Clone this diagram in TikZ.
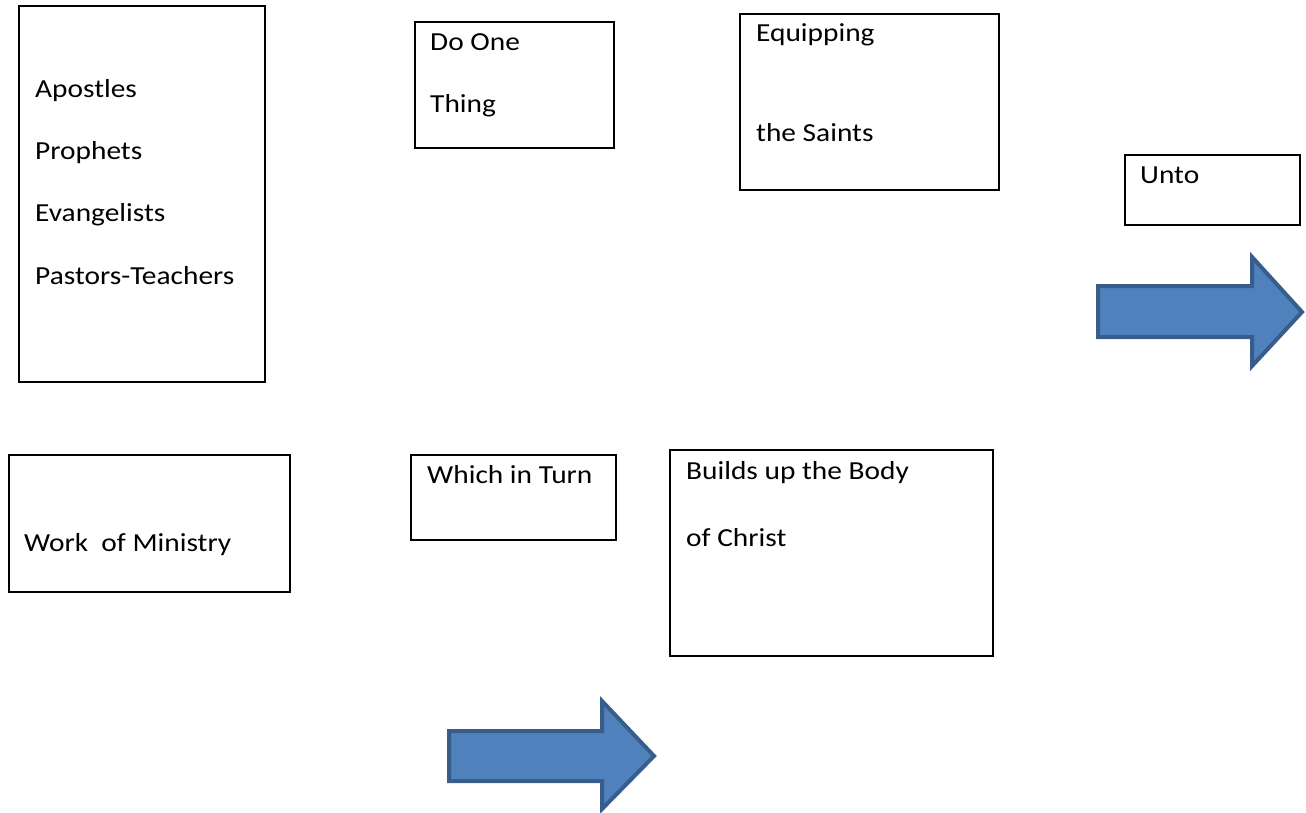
\documentclass[tikz,border=0pt]{standalone}
\usepackage{fontspec}
\setmainfont[FakeStretch=1.13]{Carlito}
\definecolor{flechefond}{HTML}{4F81BD}
\definecolor{flechebord}{HTML}{385D8A}
\tikzset{
  boite/.style={draw, line width=1.6pt},
  texte/.style={anchor=base west, inner sep=0pt, font=\fontsize{26}{30}\selectfont},
  fleche/.style={fill=flechefond, draw=flechebord, line width=4pt, line join=miter}
}
\begin{document}
\begin{tikzpicture}[x=1pt,y=-1pt]
        \useasboundingbox (0,0) rectangle (1306,812);

        % les ministeres
        \draw[boite] (19,6) rectangle (265,382);
        \draw node[texte] (apotres)    at (35,97)  {Apostles};
        \draw node[texte] (prophetes)  at (35,159) {Prophets};
        \draw node[texte] (evang)      at (35,221) {Evangelists};
        \draw node[texte] (pasteurs)   at (35,284) {Pastors-Teachers};

        \draw[boite] (415,22) rectangle (614,148);
        \draw node[texte] (unechose1)  at (430,50)  {Do One};
        \draw node[texte] (unechose2)  at (430,112) {Thing};

        \draw[boite] (740,14) rectangle (999,190);
        \draw node[texte] (equiper1)   at (756,41)  {Equipping};
        \draw node[texte] (equiper2)   at (756,141) {the Saints};

        \draw[boite] (1125,155) rectangle (1300,225);
        \draw node[texte] (jusque)     at (1140,183) {Unto};

        \draw[fleche] (1098,286) -- (1252,286) -- (1252,257) -- (1302,312)
                      -- (1252,366) -- (1252,337) -- (1098,337) -- cycle;

        % deuxieme rangee
        \draw[boite] (9,455) rectangle (290,592);
        \draw node[texte] (oeuvre)     at (24,551) {Work\ \ of Ministry};

        \draw[boite] (411,455) rectangle (616,540);
        \draw node[texte] (tour)       at (427,483) {Which in Turn};

        \draw[boite] (670,450) rectangle (993,656);
        \draw node[texte] (corps1)     at (686,479) {Builds up the Body};
        \draw node[texte] (corps2)     at (686,546) {of Christ};

        \draw[fleche] (449,731) -- (602,731) -- (602,701) -- (654,756)
                      -- (602,809) -- (602,781) -- (449,781) -- cycle;
\end{tikzpicture}
\end{document}
